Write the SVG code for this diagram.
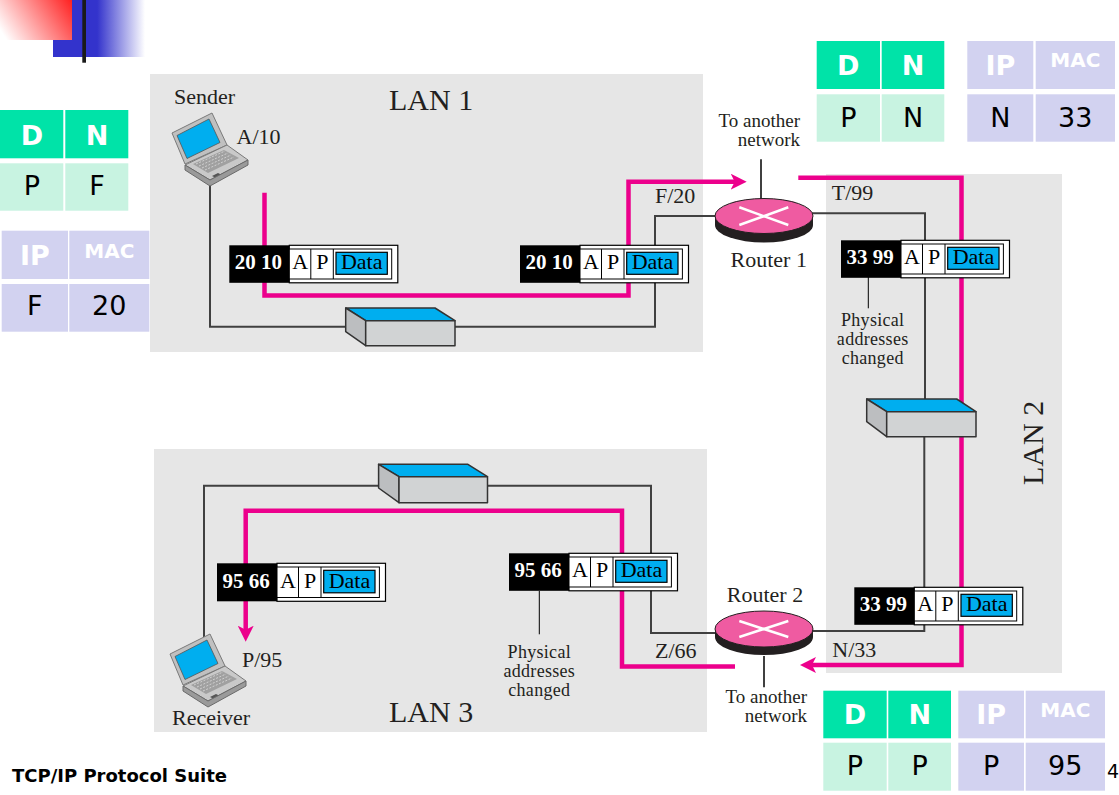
<svg xmlns="http://www.w3.org/2000/svg" xmlns:xlink="http://www.w3.org/1999/xlink" width="1119" height="795" viewBox="0 0 1119 795">
<style>
.lan{fill:#e6e6e6}
.cable{stroke:#404040;stroke-width:2;fill:none}
.flow{stroke:#ec008c;stroke-width:4.5;fill:none}
.lbl{font-family:"Liberation Serif",serif;font-size:22px;fill:#231f20}
.sm{font-size:19px}
.ph{font-size:18px}
.big{font-size:30px}
.pkB{fill:#000}
.pkW{fill:#fff;stroke:#000;stroke-width:1.2}
.pkL{stroke:#000;stroke-width:1}
.pkD{fill:#00aeef;stroke:#000;stroke-width:1.2}
.pkH{font-family:"Liberation Serif",serif;font-weight:bold;font-size:21px;fill:#fff}
.pkT{font-family:"Liberation Serif",serif;font-size:22px;fill:#000;text-anchor:middle}
.swT{fill:#00aeef;stroke:#333;stroke-width:1.5;stroke-linejoin:round}
.swF{fill:#d1d3d4;stroke:#333;stroke-width:1.5;stroke-linejoin:round}
.swS{fill:#bcbec0;stroke:#333;stroke-width:1.5;stroke-linejoin:round}
.rtB{fill:#231f20}
.rtT{fill:#ef5ba1;stroke:#231f20;stroke-width:1}
.rtX{stroke:#fff;stroke-width:2.5}
.hG{fill:#00e3a8}
.bG{fill:#c8f3e1}
.cL{fill:#d2d2f0}
.th{font-family:"DejaVu Sans",Verdana,sans-serif;font-weight:bold;font-size:27px;fill:#fff;text-anchor:middle}
.thm{font-family:"DejaVu Sans",Verdana,sans-serif;font-weight:bold;font-size:20px;fill:#fff;text-anchor:middle}
.td{font-family:"DejaVu Sans",Verdana,sans-serif;font-size:27px;fill:#000;text-anchor:middle}
</style>
<defs>
<linearGradient id="gRed" gradientUnits="userSpaceOnUse" x1="72" y1="0" x2="8" y2="42">
<stop offset="0" stop-color="#ff2020"/>
<stop offset="1" stop-color="#ffffff"/>
</linearGradient>
<linearGradient id="gBlue" x1="0" y1="0" x2="1" y2="0">
<stop offset="0" stop-color="#3333cc"/>
<stop offset="0.48" stop-color="#3333cc"/>
<stop offset="1" stop-color="#ffffff"/>
</linearGradient>
<marker id="arr" viewBox="0 0 16 16" markerWidth="16" markerHeight="16" markerUnits="userSpaceOnUse" refX="10" refY="8" orient="auto">
<path d="M0,0 L16,8 L0,16 L4,8 z" fill="#ec008c"/>
</marker>
<g id="laptop">
<polygon points="172,133 212,113 227,145 185,164" fill="#c0c0c0" stroke="#7a7a7a" stroke-width="1"/>
<polygon points="177,135.5 209,119 220,142.5 187,158.5" fill="#00aeef" stroke="#555" stroke-width="0.8"/>
<polygon points="185,165 227,145 248,160 210,180" fill="#c9c9c9" stroke="#7a7a7a" stroke-width="1"/>
<polygon points="193,164 224,150 239,158 208,173" fill="#a0a0a0"/>
<g stroke="#dcdcdc" stroke-width="0.8" stroke-dasharray="2,1.5">
<line x1="196" y1="164" x2="225" y2="151"/>
<line x1="199" y1="166" x2="228" y2="153"/>
<line x1="202" y1="168" x2="231" y2="155"/>
<line x1="205" y1="170" x2="234" y2="157"/>
</g>
<polygon points="212,176 218,173 222,175 216,178" fill="#555"/>
<polygon points="185,165 210,180 248,160 248,165 210,186 185,170" fill="#9a9a9a" stroke="#6a6a6a" stroke-width="1"/>
</g>
</defs>

<g id="decoration">
<rect x="53" y="0" width="92" height="57" fill="url(#gBlue)"/>
<rect x="0" y="0" width="72" height="40" fill="url(#gRed)"/>
<rect x="82.3" y="0" width="3.7" height="62.7" fill="#1a1a1a"/>
</g>

<g id="lans">
<rect id="lan1" class="lan" x="150" y="74" width="553" height="278"/>
<rect id="lan2" class="lan" x="826" y="174" width="236" height="499"/>
<rect id="lan3" class="lan" x="154" y="449" width="553" height="283"/>
</g>

<g id="connectors">
<polyline class="cable" points="210,184 210,326.7 345.7,326.7"/>
<polyline class="cable" points="455,326.7 655,326.7 655,216 716,216"/>
<polyline class="cable" points="812,213.3 925,213.3 925,399"/>
<polyline class="cable" points="924.3,436.7 924.3,631 812,631"/>
<polyline class="cable" points="716,633 651,633 651,485.7 487.5,485.7"/>
<polyline class="cable" points="378.6,485.7 204,485.7 204,637"/>
<line class="cable" x1="761" y1="159.3" x2="761" y2="200"/>
<line class="cable" x1="764" y1="656" x2="764" y2="687.3"/>
<line class="pkL" x1="868.3" y1="277" x2="868.3" y2="308.3"/>
<line class="pkL" x1="539.3" y1="591" x2="539.3" y2="634.3"/>
<polyline class="flow" points="264.5,192.7 264.5,295.5 628.5,295.5 628.5,181.7 740.7,181.7" marker-end="url(#arr)"/>
<polyline class="flow" points="798.3,177.7 961.5,177.7 961.5,665 806,665" marker-end="url(#arr)"/>
<polyline class="flow" points="735,666.5 622,666.5 622,510.7 245.7,510.7 245.7,635.7" marker-end="url(#arr)"/>
</g>

<g id="switch1">
<polygon class="swT" points="345.7,308 435,308 455,320.7 365.7,320.7"/>
<polygon class="swS" points="345.7,308 365.7,320.7 365.7,345.7 345.7,331.7"/>
<rect class="swF" x="365.7" y="320.7" width="89.3" height="25"/>
</g>
<g id="switch2">
<polygon class="swT" points="866.7,399 956.7,399 976,411.7 886.7,411.7"/>
<polygon class="swS" points="866.7,399 886.7,411.7 886.7,436.7 866.7,421.7"/>
<rect class="swF" x="886.7" y="411.7" width="89.3" height="25"/>
</g>
<g id="switch3">
<polygon class="swT" points="378.6,464.3 467.9,464.3 487.5,476.7 399,476.7"/>
<polygon class="swS" points="378.6,464.3 399,476.7 399,502.7 378.6,488"/>
<rect class="swF" x="399" y="476.7" width="88.5" height="26"/>
</g>

<g id="router1">
<path class="rtB" d="M715,216 v9 a49,17.5 0 0 0 98,0 v-9 z"/>
<ellipse class="rtT" cx="764" cy="216" rx="49" ry="17.5"/>
<line class="rtX" x1="739.3" y1="207.3" x2="788.3" y2="225"/>
<line class="rtX" x1="739.3" y1="225" x2="788.3" y2="207.3"/>
<text class="lbl" x="768.7" y="266.7" text-anchor="middle">Router 1</text>
<text class="lbl sm" x="800" y="126.7" text-anchor="end">To another</text>
<text class="lbl sm" x="800" y="145.7" text-anchor="end">network</text>
</g>
<g id="router2">
<path class="rtB" d="M715,629 v8 a49,18 0 0 0 98,0 v-8 z"/>
<ellipse class="rtT" cx="764" cy="629" rx="49" ry="18"/>
<line class="rtX" x1="739.3" y1="621" x2="788.3" y2="637"/>
<line class="rtX" x1="739.3" y1="637" x2="788.3" y2="621"/>
<text class="lbl" x="765" y="601.7" text-anchor="middle">Router 2</text>
<text class="lbl sm" x="807" y="702.7" text-anchor="end">To another</text>
<text class="lbl sm" x="807" y="721.7" text-anchor="end">network</text>
</g>

<g id="sender">
<use xlink:href="#laptop" href="#laptop"/>
<text class="lbl" x="174" y="104">Sender</text>
<text class="lbl" x="236.5" y="144">A/10</text>
</g>
<g id="receiver">
<use xlink:href="#laptop" href="#laptop" transform="translate(-2,521)"/>
<text class="lbl" x="172" y="725">Receiver</text>
<text class="lbl" x="242" y="666.7">P/95</text>
</g>

<g id="labels">
<text class="lbl big" x="389" y="110">LAN 1</text>
<text class="lbl big" x="1043" y="485" transform="rotate(-90 1043 485)">LAN 2</text>
<text class="lbl big" x="389" y="722">LAN 3</text>
<text class="lbl" x="655" y="203.3">F/20</text>
<text class="lbl" x="831.7" y="200">T/99</text>
<text class="lbl" x="655" y="658.3">Z/66</text>
<text class="lbl" x="832.3" y="656.7">N/33</text>
<text class="lbl ph" x="872.7" y="326" text-anchor="middle" letter-spacing="0.3">Physical</text>
<text class="lbl ph" x="872.7" y="345" text-anchor="middle" letter-spacing="0.3">addresses</text>
<text class="lbl ph" x="872.7" y="364" text-anchor="middle" letter-spacing="0.3">changed</text>
<text class="lbl ph" x="539.3" y="658" text-anchor="middle" letter-spacing="0.3">Physical</text>
<text class="lbl ph" x="539.3" y="677" text-anchor="middle" letter-spacing="0.3">addresses</text>
<text class="lbl ph" x="539.3" y="696" text-anchor="middle" letter-spacing="0.3">changed</text>
</g>

<g id="packet1" transform="translate(229.3,245.3)">
<rect class="pkB" x="0" y="0" width="60" height="37.5"/>
<rect class="pkW" x="60" y="0" width="108.5" height="37.5"/>
<rect class="pkW" x="60" y="3.7" width="102.4" height="30" style="stroke-width:1"/>
<line class="pkL" x1="81.5" y1="3.7" x2="81.5" y2="33.7"/>
<line class="pkL" x1="104" y1="3.7" x2="104" y2="33.7"/>
<rect class="pkD" x="106.7" y="7" width="51.3" height="22"/>
<text class="pkH" x="5.5" y="24">20 10</text>
<text class="pkT" x="71" y="24">A</text>
<text class="pkT" x="93" y="24">P</text>
<text class="pkT" x="132.4" y="24">Data</text>
</g>
<g id="packet2" transform="translate(520,245.3)">
<rect class="pkB" x="0" y="0" width="60" height="37.5"/>
<rect class="pkW" x="60" y="0" width="108.5" height="37.5"/>
<rect class="pkW" x="60" y="3.7" width="102.4" height="30" style="stroke-width:1"/>
<line class="pkL" x1="81.5" y1="3.7" x2="81.5" y2="33.7"/>
<line class="pkL" x1="104" y1="3.7" x2="104" y2="33.7"/>
<rect class="pkD" x="106.7" y="7" width="51.3" height="22"/>
<text class="pkH" x="5.5" y="24">20 10</text>
<text class="pkT" x="71" y="24">A</text>
<text class="pkT" x="93" y="24">P</text>
<text class="pkT" x="132.4" y="24">Data</text>
</g>
<g id="packet3" transform="translate(841,240.3)">
<rect class="pkB" x="0" y="0" width="60" height="37.5"/>
<rect class="pkW" x="60" y="0" width="108.5" height="37.5"/>
<rect class="pkW" x="60" y="3.7" width="102.4" height="30" style="stroke-width:1"/>
<line class="pkL" x1="81.5" y1="3.7" x2="81.5" y2="33.7"/>
<line class="pkL" x1="104" y1="3.7" x2="104" y2="33.7"/>
<rect class="pkD" x="106.7" y="7" width="51.3" height="22"/>
<text class="pkH" x="5.5" y="24">33 99</text>
<text class="pkT" x="71" y="24">A</text>
<text class="pkT" x="93" y="24">P</text>
<text class="pkT" x="132.4" y="24">Data</text>
</g>
<g id="packet4" transform="translate(854.3,587.3)">
<rect class="pkB" x="0" y="0" width="60" height="37.5"/>
<rect class="pkW" x="60" y="0" width="108.5" height="37.5"/>
<rect class="pkW" x="60" y="3.7" width="102.4" height="30" style="stroke-width:1"/>
<line class="pkL" x1="81.5" y1="3.7" x2="81.5" y2="33.7"/>
<line class="pkL" x1="104" y1="3.7" x2="104" y2="33.7"/>
<rect class="pkD" x="106.7" y="7" width="51.3" height="22"/>
<text class="pkH" x="5.5" y="24">33 99</text>
<text class="pkT" x="71" y="24">A</text>
<text class="pkT" x="93" y="24">P</text>
<text class="pkT" x="132.4" y="24">Data</text>
</g>
<g id="packet5" transform="translate(217,563.3)">
<rect class="pkB" x="0" y="0" width="60" height="38"/>
<rect class="pkW" x="60" y="0" width="108.5" height="38"/>
<rect class="pkW" x="60" y="3.7" width="102.4" height="30.5" style="stroke-width:1"/>
<line class="pkL" x1="81.5" y1="3.7" x2="81.5" y2="34.2"/>
<line class="pkL" x1="104" y1="3.7" x2="104" y2="34.2"/>
<rect class="pkD" x="106.7" y="7" width="51.3" height="22.5"/>
<text class="pkH" x="5.5" y="24.5">95 66</text>
<text class="pkT" x="71" y="24.5">A</text>
<text class="pkT" x="93" y="24.5">P</text>
<text class="pkT" x="132.4" y="24.5">Data</text>
</g>
<g id="packet6" transform="translate(509,553.3)">
<rect class="pkB" x="0" y="0" width="60" height="37.5"/>
<rect class="pkW" x="60" y="0" width="108.5" height="37.5"/>
<rect class="pkW" x="60" y="3.7" width="102.4" height="30" style="stroke-width:1"/>
<line class="pkL" x1="81.5" y1="3.7" x2="81.5" y2="33.7"/>
<line class="pkL" x1="104" y1="3.7" x2="104" y2="33.7"/>
<rect class="pkD" x="106.7" y="7" width="51.3" height="22"/>
<text class="pkH" x="5.5" y="24">95 66</text>
<text class="pkT" x="71" y="24">A</text>
<text class="pkT" x="93" y="24">P</text>
<text class="pkT" x="132.4" y="24">Data</text>
</g>

<g id="table-dn-left">
<rect class="hG" x="0" y="110" width="63.3" height="48.3"/>
<rect class="hG" x="65.3" y="110" width="63" height="48.3"/>
<rect class="bG" x="0" y="163.3" width="63.3" height="47.4"/>
<rect class="bG" x="65.3" y="163.3" width="63" height="47.4"/>
<text class="th" x="32" y="145">D</text>
<text class="th" x="97" y="145">N</text>
<text class="td" x="32" y="195">P</text>
<text class="td" x="97" y="195">F</text>
</g>
<g id="table-ipmac-left">
<rect class="cL" x="1.7" y="230.7" width="66.3" height="48.3"/>
<rect class="cL" x="69.3" y="230.7" width="80" height="48.3"/>
<rect class="cL" x="1.7" y="284" width="66.3" height="47.7"/>
<rect class="cL" x="69.3" y="284" width="80" height="47.7"/>
<text class="th" x="34.8" y="265">IP</text>
<text class="thm" x="109.3" y="258">MAC</text>
<text class="td" x="34.8" y="315">F</text>
<text class="td" x="109.3" y="315">20</text>
</g>
<g id="table-dn-top">
<rect class="hG" x="816.7" y="41" width="63.3" height="48"/>
<rect class="hG" x="881.7" y="41" width="62.6" height="48"/>
<rect class="bG" x="816.7" y="94.3" width="63.3" height="47.4"/>
<rect class="bG" x="881.7" y="94.3" width="62.6" height="47.4"/>
<text class="th" x="848.3" y="75">D</text>
<text class="th" x="913" y="75">N</text>
<text class="td" x="848.3" y="126.7">P</text>
<text class="td" x="913" y="126.7">N</text>
</g>
<g id="table-ipmac-top">
<rect class="cL" x="967.3" y="41" width="66" height="48"/>
<rect class="cL" x="1035.7" y="41" width="79.3" height="48"/>
<rect class="cL" x="967.3" y="94.3" width="66" height="47.4"/>
<rect class="cL" x="1035.7" y="94.3" width="79.3" height="47.4"/>
<text class="th" x="1000.3" y="75">IP</text>
<text class="thm" x="1075.3" y="67.3">MAC</text>
<text class="td" x="1000.3" y="126.7">N</text>
<text class="td" x="1075.3" y="126.7">33</text>
</g>
<g id="table-dn-bottom">
<rect class="hG" x="823.3" y="690.7" width="63.4" height="47.6"/>
<rect class="hG" x="888.3" y="690.7" width="62.7" height="47.6"/>
<rect class="bG" x="823.3" y="742.7" width="63.4" height="48"/>
<rect class="bG" x="888.3" y="742.7" width="62.7" height="48"/>
<text class="th" x="855" y="724">D</text>
<text class="th" x="919.7" y="724">N</text>
<text class="td" x="855" y="775">P</text>
<text class="td" x="919.7" y="775">P</text>
</g>
<g id="table-ipmac-bottom">
<rect class="cL" x="958.3" y="690.7" width="65.7" height="47.6"/>
<rect class="cL" x="1025.7" y="690.7" width="79.3" height="47.6"/>
<rect class="cL" x="958.3" y="742.7" width="65.7" height="48"/>
<rect class="cL" x="1025.7" y="742.7" width="79.3" height="48"/>
<text class="th" x="991.2" y="724">IP</text>
<text class="thm" x="1065.3" y="717.3">MAC</text>
<text class="td" x="991.2" y="775">P</text>
<text class="td" x="1065.3" y="775">95</text>
</g>

<g id="footer">
<text x="12" y="782" font-family="'DejaVu Sans',Verdana,sans-serif" font-weight="bold" font-size="18" fill="#000">TCP/IP Protocol Suite</text>
<text x="1107" y="778.3" font-family="'DejaVu Sans',Verdana,sans-serif" font-size="19" fill="#000">4</text>
</g>
</svg>
